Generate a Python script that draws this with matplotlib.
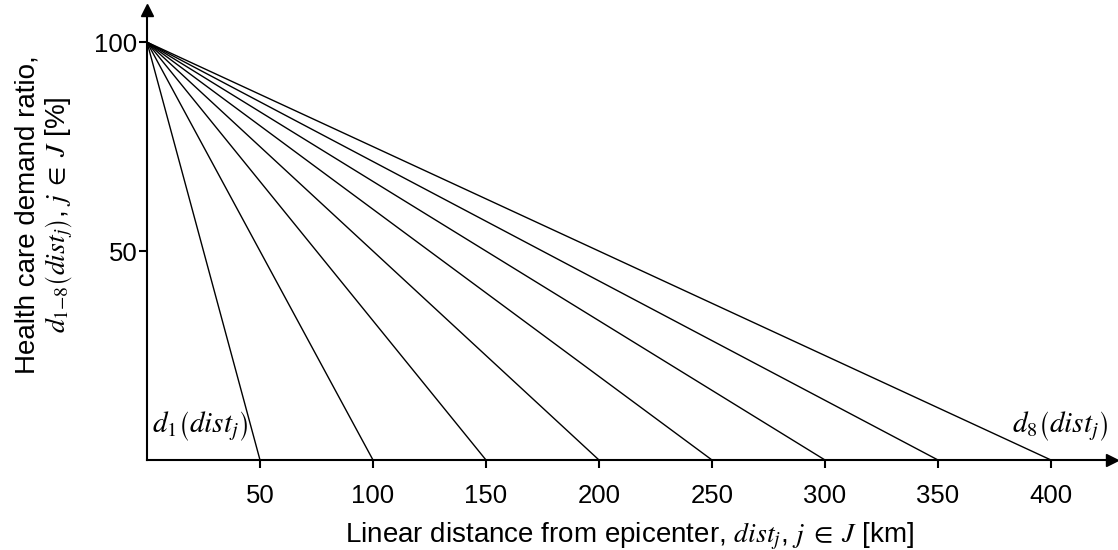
import matplotlib
matplotlib.use("Agg")
import matplotlib.pyplot as plt
import numpy as np

plt.rcParams['font.family'] = ['Liberation Sans', 'DejaVu Sans']
plt.rcParams['mathtext.fontset'] = 'stix'

# Data: each curve d_k goes linearly from 100% at 0 km to 0% at its max distance
max_dist = [50, 100, 150, 200, 250, 300, 350, 400]
start_ratio = 100
xticks = [50, 100, 150, 200, 250, 300, 350, 400]
yticks = [50, 100]

fig = plt.figure(figsize=(11.18, 5.5), dpi=100)
ax = fig.add_axes([147/1118, 90/550, (1112-147)/1118, 450/550])

for d in max_dist:
    ax.plot([0, d], [start_ratio, 0], color='black', lw=1.0)

ax.set_xlim(0, 427)
ax.set_ylim(0, 107.7)
for s in ['top', 'right']:
    ax.spines[s].set_visible(False)
for s in ['left', 'bottom']:
    ax.spines[s].set_linewidth(1.5)
ax.plot(1, 0, '>k', ms=8, transform=ax.transAxes, clip_on=False)
ax.plot(0, 1, '^k', ms=8, transform=ax.transAxes, clip_on=False)

ax.set_xticks(xticks)
ax.set_yticks(yticks)
ax.tick_params(direction='out', length=6, width=1.5, labelsize=18.5)
ax.tick_params(axis='x', pad=11)
ax.tick_params(axis='y', pad=1)

ax.set_xlabel(r'Linear distance from epicenter, $dist_j$, $j \;\in\; J$ [km]', fontsize=20, labelpad=9)
ax.set_ylabel('Health care demand ratio,\n' + r'$d_{1\mathrm{-}8}\left(dist_j\right)$, $j \;\in\; J$ [%]',
              fontsize=20, linespacing=1.1)
ax.yaxis.set_label_coords(-0.075, 0.545)

ax.text(2, 4.0, r'$d_1\left(dist_j\right)$', fontsize=21, ha='left', va='bottom')
ax.text(425, 4.0, r'$d_8\left(dist_j\right)$', fontsize=21, ha='right', va='bottom')

fig.savefig('out.png', dpi=100)
